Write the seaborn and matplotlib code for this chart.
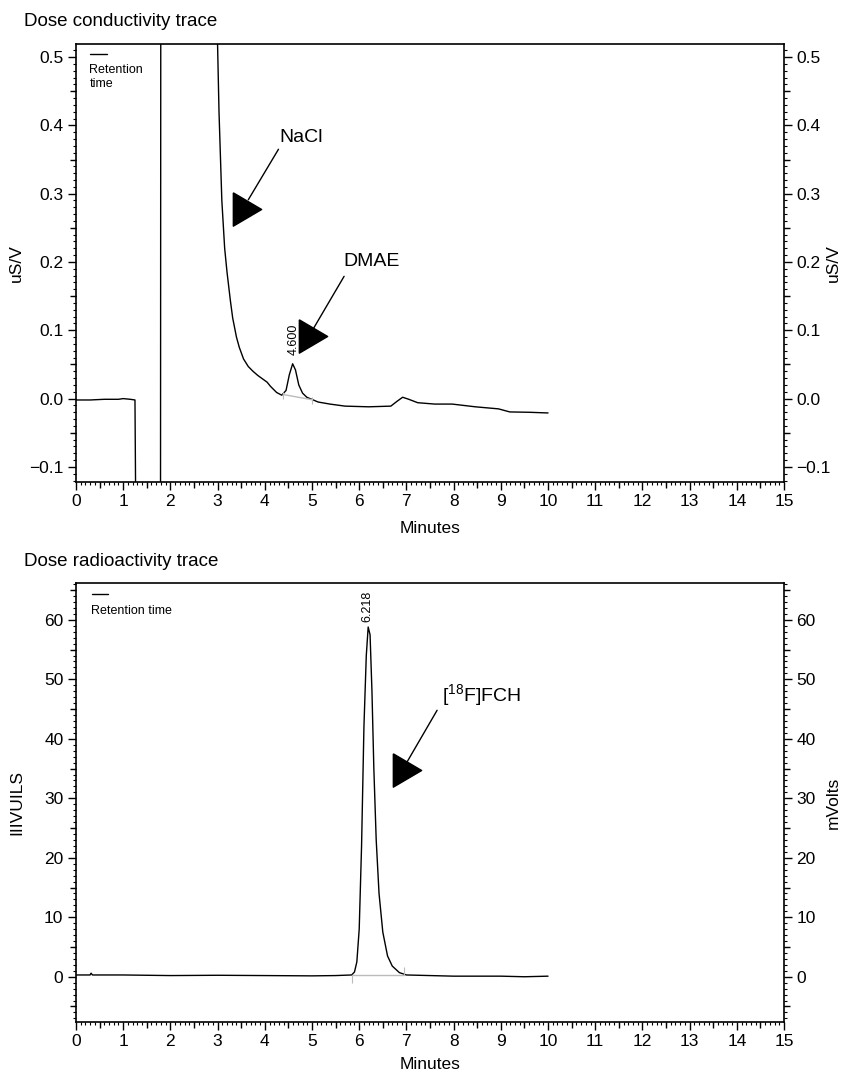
import matplotlib
matplotlib.use("Agg")
import matplotlib.pyplot as plt
from matplotlib.ticker import MultipleLocator, FuncFormatter
import seaborn as sns

# conductivity trace (minutes, uS/V)
cond_time = [0.0, 0.3, 0.6, 0.9, 1.0, 1.15, 1.25, 1.28, 1.79, 1.80, 2.95,
             2.99, 3.03, 3.09, 3.15, 3.20, 3.27, 3.32, 3.40, 3.46, 3.55, 3.65,
             3.75, 3.85, 3.95, 4.05, 4.12, 4.25, 4.36, 4.45, 4.52, 4.59, 4.65,
             4.72, 4.80, 4.89, 5.13, 5.38, 5.70, 6.20, 6.67, 6.80, 6.92, 7.05,
             7.24, 7.60, 7.97, 8.46, 8.95, 9.19, 9.60, 10.0]
cond_signal = [-0.002, -0.002, -0.001, -0.001, 0.000, -0.001, -0.002, -0.3, -0.3, 1.0, 1.0,
               0.55, 0.42, 0.29, 0.22, 0.185, 0.144, 0.118, 0.09, 0.075, 0.058, 0.047,
               0.040, 0.034, 0.029, 0.024, 0.018, 0.009, 0.005, 0.012, 0.035, 0.051, 0.042,
               0.020, 0.008, 0.002, -0.005, -0.008, -0.011, -0.012, -0.011, -0.004, 0.002, -0.001,
               -0.006, -0.008, -0.008, -0.012, -0.015, -0.0195, -0.020, -0.021]

# radioactivity trace (minutes, mV)
rad_time = [0.0, 0.3, 0.32, 0.35, 1.0, 2.0, 3.0, 4.0, 5.0, 5.5, 5.84, 5.9,
            5.95, 6.0, 6.05, 6.1, 6.15, 6.19, 6.23, 6.27, 6.31, 6.36, 6.42,
            6.5, 6.6, 6.7, 6.85, 7.0, 7.5, 8.0, 9.0, 9.5, 10.0]
rad_signal = [0.3, 0.3, 0.6, 0.3, 0.3, 0.2, 0.25, 0.2, 0.15, 0.2, 0.3, 0.8,
              2.5, 8.0, 22.0, 42.0, 54.0, 58.8, 57.5, 48.0, 35.0, 23.0, 14.0,
              7.5, 3.5, 1.8, 0.7, 0.3, 0.2, 0.1, 0.1, 0.0, 0.1]

# integration baselines (start, end) as drawn by the software
cond_base_t = [4.39, 4.99]
cond_base_v = [0.006, -0.0015]
rad_base_t = [5.84, 6.95]
rad_base_v = [0.3, 0.3]

cond_peak_rt = "4.600"
rad_peak_rt = "6.218"

sns.set_style("ticks")
plt.rcParams["font.family"] = ["Liberation Sans", "DejaVu Sans"]
plt.rcParams.update({
    "text.color": "black", "axes.labelcolor": "black", "axes.edgecolor": "black",
    "xtick.color": "black", "ytick.color": "black",
    "mathtext.fontset": "custom", "mathtext.rm": "Liberation Sans",
})

# right-pointing arrow head, slightly narrower than tall
head = [(-0.85, 1.0), (0.85, 0.0), (-0.85, -1.0), (-0.85, 1.0)]

fig = plt.figure(figsize=(8.44, 10.77), dpi=100)
ax1 = fig.add_axes([0.090, 0.5525, 0.839, 0.4066])
ax2 = fig.add_axes([0.090, 0.0511, 0.839, 0.4076])


def style_axes(ax, ylim, ymaj, ymid, ymin, ylabel_l, ylabel_r, ylab_fmt=None):
    ax.set_xlim(0, 15)
    ax.set_ylim(*ylim)
    ax.xaxis.set_major_locator(MultipleLocator(1))
    ax.xaxis.set_minor_locator(MultipleLocator(0.1))
    ax.yaxis.set_major_locator(MultipleLocator(ymaj))
    ax.yaxis.set_minor_locator(MultipleLocator(ymin))
    if ylab_fmt:
        ax.yaxis.set_major_formatter(ylab_fmt)
    for sp in ax.spines.values():
        sp.set_visible(True)
        sp.set_linewidth(1.2)
    ax.tick_params(which="major", direction="out", length=6, width=1, labelsize=12.5, pad=3)
    ax.tick_params(which="minor", direction="out", length=2, width=0.8)
    ax.tick_params(axis="x", which="both", top=False)

    # mid-level ticks on x
    sx = ax.secondary_xaxis("bottom")
    sx.set_xticks([i + 0.5 for i in range(15)])
    sx.tick_params(length=4, width=1, labelbottom=False)
    for sp in sx.spines.values():
        sp.set_visible(False)

    axr = ax.twinx()
    axr.set_ylim(*ylim)
    axr.yaxis.set_major_locator(MultipleLocator(ymaj))
    axr.yaxis.set_minor_locator(MultipleLocator(ymin))
    if ylab_fmt:
        axr.yaxis.set_major_formatter(ylab_fmt)
    axr.tick_params(which="major", direction="out", length=6, width=1, labelsize=12.5, pad=3)
    axr.tick_params(which="minor", direction="out", length=2, width=0.8)
    for sp in axr.spines.values():
        sp.set_visible(False)

    # mid-level ticks on both y sides
    ticks = []
    v = (int(ylim[0] / ymaj) - 1) * ymaj + ymid
    while v < ylim[1]:
        ticks.append(v)
        v += ymaj
    for a, side in ((ax, "left"), (axr, "right")):
        sy = a.secondary_yaxis(side)
        sy.set_yticks(ticks)
        sy.tick_params(length=4, width=1, labelleft=False, labelright=False)
        for sp in sy.spines.values():
            sp.set_visible(False)

    ax.set_ylabel(ylabel_l, fontsize=12.5)
    axr.set_ylabel(ylabel_r, fontsize=12.5)
    ax.yaxis.set_label_coords(-0.073, 0.5)
    axr.yaxis.set_label_coords(1.059, 0.5)
    ax.set_xlabel("Minutes", fontsize=12.5)
    return axr


# ---- top: conductivity ----
sns.lineplot(x=cond_time, y=cond_signal, ax=ax1, color="black", linewidth=1.0,
             sort=False, estimator=None)
sns.lineplot(x=cond_base_t, y=cond_base_v, ax=ax1, color="#bbbbbb", linewidth=1.0,
             sort=False, estimator=None)
ax1.vlines(cond_base_t, [v - 0.006 for v in cond_base_v], [v + 0.004 for v in cond_base_v],
           color="#bbbbbb", linewidth=0.8)
fmt1 = FuncFormatter(lambda v, p: f"{v:.1f}".replace("-", "\u2212"))
style_axes(ax1, (-0.122, 0.519), 0.1, 0.05, 0.01, "uS/V", "uS/V", fmt1)
ax1.xaxis.set_label_coords(0.5, -0.09)

ax1.text(4.62, 0.064, cond_peak_rt, rotation=90, ha="center", va="bottom", fontsize=9)

# NaCl annotation
ax1.text(4.30, 0.382, "NaCl", ha="left", va="center", fontsize=14)
ax1.plot([4.29, 3.65], [0.365, 0.291], color="black", linewidth=1.0)
ax1.plot([3.63], [0.278], marker=head, markersize=24, color="black", linestyle="none")
# DMAE annotation
ax1.text(5.66, 0.201, "DMAE", ha="left", va="center", fontsize=14)
ax1.plot([5.68, 5.03], [0.179, 0.1025], color="black", linewidth=1.0)
ax1.plot([5.03], [0.091], marker=head, markersize=24, color="black", linestyle="none")

ax1.plot([0.02, 0.044], [0.977, 0.977], transform=ax1.transAxes, color="black", linewidth=1)
ax1.text(0.019, 0.955, "Retention\ntime", transform=ax1.transAxes, ha="left", va="top",
         fontsize=9, linespacing=1.3)

# ---- bottom: radioactivity ----
sns.lineplot(x=rad_time, y=rad_signal, ax=ax2, color="black", linewidth=1.0,
             sort=False, estimator=None)
sns.lineplot(x=rad_base_t, y=rad_base_v, ax=ax2, color="#bbbbbb", linewidth=1.0,
             sort=False, estimator=None)
ax2.vlines(rad_base_t, [-1.1, 0.3], [0.3, 1.6], color="#bbbbbb", linewidth=0.8)
style_axes(ax2, (-7.6, 66.2), 10, 5, 1, "IIIVUILS", "mVolts")
ax2.xaxis.set_label_coords(0.5, -0.08)

ax2.text(6.17, 59.6, rad_peak_rt, rotation=90, ha="center", va="bottom", fontsize=9)

ax2.text(7.75, 47.2, "[$^{18}$F]FCH", ha="left", va="center", fontsize=14)
ax2.plot([7.65, 7.02], [44.8, 36.2], color="black", linewidth=1.0)
ax2.plot([7.02], [34.8], marker=head, markersize=24, color="black", linestyle="none")

ax2.plot([0.022, 0.045], [0.974, 0.974], transform=ax2.transAxes, color="black", linewidth=1)
ax2.text(0.021, 0.936, "Retention time", transform=ax2.transAxes, ha="left", va="center",
         fontsize=9)

fig.text(24 / 844, 1 - 21.5 / 1077, "Dose conductivity trace", ha="left", va="center", fontsize=13.5)
fig.text(24 / 844, 1 - 561 / 1077, "Dose radioactivity trace", ha="left", va="center", fontsize=13.5)

fig.savefig("out.png", dpi=100)
